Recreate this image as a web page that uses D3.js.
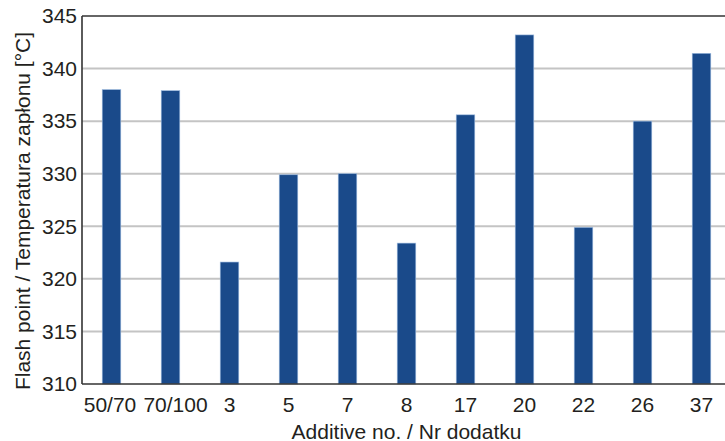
<!DOCTYPE html>
<html>
<head>
<meta charset="utf-8">
<script src="https://cdn.jsdelivr.net/npm/d3@7"></script>
<style>
  html, body { margin: 0; padding: 0; background: #fff; }
  svg { display: block; }
  text { font-family: "Liberation Sans", Arial, sans-serif; fill: #231f20; }
</style>
</head>
<body>
<svg id="chart" width="725" height="441"></svg>
<script>
const categories = ["50/70", "70/100", "3", "5", "7", "8", "17", "20", "22", "26", "37"];
const flashPoint = [338.0, 337.9, 321.6, 329.9, 330.0, 323.4, 335.6, 343.2, 324.9, 335.0, 341.45];
const yTicks = [310, 315, 320, 325, 330, 335, 340, 345];
const xTitle = "Additive no. / Nr dodatku";
const yTitle = "Flash point / Temperatura zapłonu [°C]";

const svg = d3.select("#chart");
const mLeft = 82, mRight = 731, mTop = 16, mBottom = 384;

const x = d3.scaleBand().domain(categories).range([mLeft, mRight])
  .paddingInner(0.685).paddingOuter(0.3425);
const y = d3.scaleLinear().domain([310, 345]).range([mBottom, mTop]);

// gridlines
svg.append("g").selectAll("line").data(yTicks.filter(t => t !== 310 && t !== 345)).join("line")
  .attr("x1", mLeft).attr("x2", mRight)
  .attr("y1", d => y(d)).attr("y2", d => y(d))
  .attr("stroke", "#c4c4c4").attr("stroke-width", 2);

// bars
svg.append("g").selectAll("rect").data(categories).join("rect")
  .attr("x", d => x(d))
  .attr("width", x.bandwidth())
  .attr("y", (d, i) => y(flashPoint[i]))
  .attr("height", (d, i) => y(310) - y(flashPoint[i]))
  .attr("fill", "#1a4a8a")
  .attr("stroke", "#9dbbe0").attr("stroke-width", 0.6);

// frame
svg.append("line").attr("x1", mLeft).attr("x2", mRight).attr("y1", mTop).attr("y2", mTop)
  .attr("stroke", "#333").attr("stroke-width", 1.6);
svg.append("line").attr("x1", mLeft).attr("x2", mRight).attr("y1", mBottom).attr("y2", mBottom)
  .attr("stroke", "#333").attr("stroke-width", 1.6);
svg.append("line").attr("x1", mLeft).attr("x2", mLeft).attr("y1", mTop).attr("y2", mBottom)
  .attr("stroke", "#333").attr("stroke-width", 1.6);

// y axis labels
const yAxis = d3.axisLeft(y).tickValues(yTicks).tickSize(0).tickPadding(5).tickFormat(d3.format("d"));
const gy = svg.append("g").attr("transform", `translate(${mLeft},0)`).call(yAxis);
gy.select(".domain").remove();
gy.selectAll("text").attr("font-size", 21).attr("font-family", "Liberation Sans, Arial, sans-serif").attr("fill", "#231f20");

// x axis labels
const xAxis = d3.axisBottom(x).tickSize(0).tickPadding(13);
const gx = svg.append("g").attr("transform", `translate(0,${mBottom})`).call(xAxis);
gx.select(".domain").remove();
gx.selectAll("text").attr("font-size", 21).attr("font-family", "Liberation Sans, Arial, sans-serif").attr("fill", "#231f20")
  .attr("dx", d => d === "50/70" ? -1.5 : (d === "70/100" ? 5 : 0));

// titles
svg.append("text").attr("x", (mLeft + mRight) / 2).attr("y", 438.5)
  .attr("text-anchor", "middle").attr("font-size", 21).text(xTitle);
svg.append("text").attr("transform", "translate(30,211) rotate(-90)")
  .attr("text-anchor", "middle").attr("font-size", 21).text(yTitle);
</script>
</body>
</html>
